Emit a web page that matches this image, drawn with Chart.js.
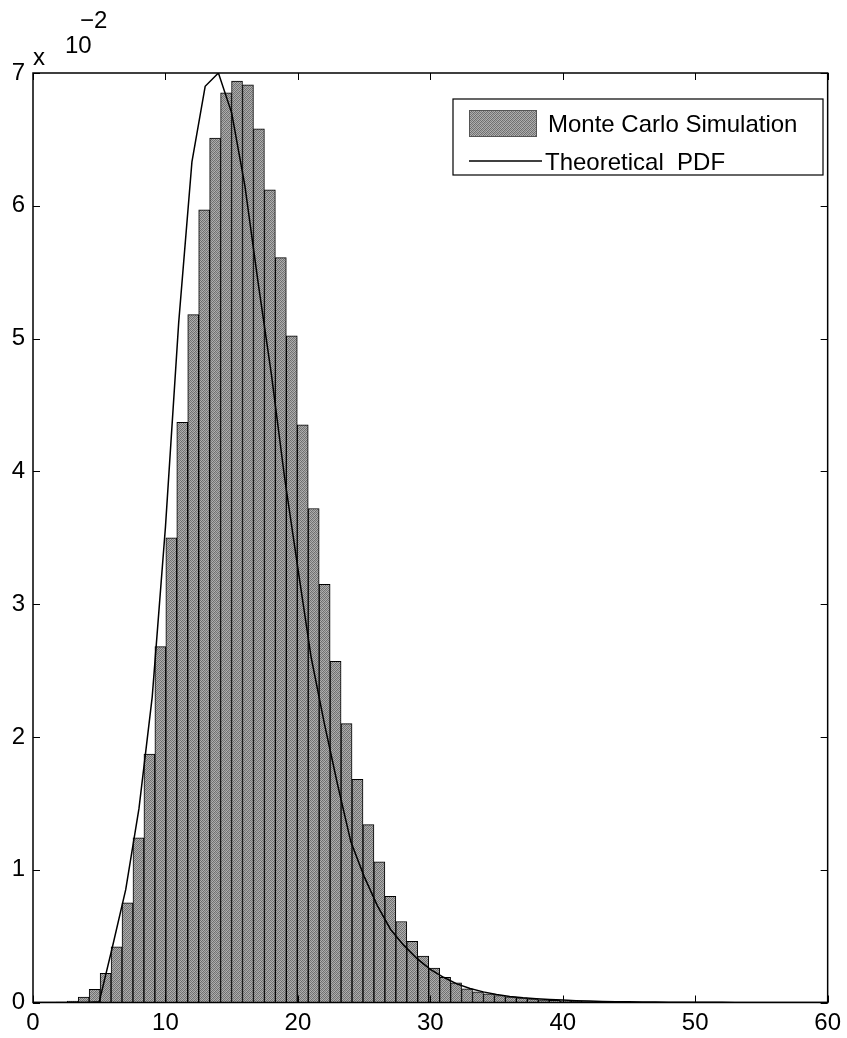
<!DOCTYPE html>
<html>
<head>
<meta charset="utf-8">
<script src="https://cdn.jsdelivr.net/npm/chart.js@4.4.0/dist/chart.umd.min.js"></script>
<style>
html,body{margin:0;padding:0;background:#fff;}
#wrap{width:847px;height:1038px;}
</style>
</head>
<body>
<div id="wrap"><canvas id="c" width="847" height="1038"></canvas></div>
<script>
// Histogram bin centres (bin width ~0.827)
const binCenters = [
  2.173, 3.000, 3.827, 4.654, 5.481, 6.308, 7.135, 7.962, 8.789, 9.616,
  10.443, 11.270, 12.097, 12.924, 13.751, 14.578, 15.405, 16.232, 17.059, 17.886,
  18.713, 19.540, 20.367, 21.194, 22.021, 22.848, 23.675, 24.502, 25.329, 26.156,
  26.983, 27.810, 28.637, 29.464, 30.291, 31.118, 31.945, 32.772, 33.599, 34.426,
  35.253, 36.080, 36.907, 37.734, 38.561, 39.388, 40.215, 41.042, 41.869, 42.696
];
// Fraction of Monte Carlo samples falling in each bin
const simulated = [
  0.00003, 0.0001, 0.0004, 0.0010, 0.0022, 0.0042, 0.0075, 0.0124, 0.0187, 0.0268,
  0.0350, 0.0437, 0.0518, 0.0597, 0.0651, 0.0685, 0.0694, 0.0691, 0.0658, 0.0612,
  0.0561, 0.0502, 0.0435, 0.0372, 0.0315, 0.0257, 0.0210, 0.0168, 0.0134, 0.0106,
  0.0080, 0.0061, 0.0046, 0.0035, 0.0026, 0.0019, 0.00148, 0.00103, 0.0008, 0.00065,
  0.00053, 0.00043, 0.00035, 0.00027, 0.00021, 0.00016, 0.00012, 0.00009, 0.00007, 0.00005
];
// Theoretical density, sampled at integer x
const pdfX = [
  0, 1, 2, 3, 4, 5, 6, 7, 8, 9, 10, 11, 12, 13, 14, 15, 16, 17, 18, 19, 20,
  21, 22, 23, 24, 25, 26, 27, 28, 29, 30, 31, 32, 33, 34, 35, 36, 37, 38, 39, 40,
  41, 42, 43, 44, 45, 46, 47, 48, 49, 50, 51, 52, 53, 54, 55, 56, 57, 58, 59, 60
];
const pdfY = [
  0, 0, 0, 0, 0, 0.00005, 0.0042, 0.0085, 0.0146, 0.0230, 0.0358,
  0.0512, 0.0633, 0.0690, 0.0700, 0.0670, 0.0615, 0.0542, 0.0473, 0.0395, 0.0327,
  0.0260, 0.0210, 0.0164, 0.0121, 0.0095, 0.0073, 0.0055, 0.0043, 0.0033, 0.0025,
  0.0019, 0.0014, 0.00105, 0.0008, 0.0006, 0.00046, 0.00035, 0.00028, 0.00022, 0.00018,
  0.00014, 0.00011, 0.00008, 0.00006, 0.00005, 0.00004, 0.00003, 0.00002, 0.00002, 0.00001,
  0.00001, 0.00001, 0, 0, 0, 0, 0, 0, 0, 0
];
const xTicks = [0, 10, 20, 30, 40, 50, 60];
const yTicks = [0, 0.01, 0.02, 0.03, 0.04, 0.05, 0.06, 0.07];
const legendLabels = ['Monte Carlo Simulation', 'Theoretical  PDF'];
const expBase = 'x', expTen = '10', expPower = '\u22122';

const FONT = "'Liberation Sans', Arial, Helvetica, sans-serif";
const FSIZE = 24;

// halftone-like grey fill for the bars
function makeHalftone() {
  const t = document.createElement('canvas');
  t.width = 4; t.height = 4;
  const g = t.getContext('2d');
  const shades = [
    [116, 174, 110, 166],
    [178, 106, 168, 124],
    [112, 164, 120, 176],
    [168, 130, 180, 108]
  ];
  for (let r = 0; r < 4; r++) for (let c = 0; c < 4; c++) {
    const v = shades[r][c];
    g.fillStyle = `rgb(${v},${v},${v})`;
    g.fillRect(c, r, 1, 1);
  }
  return document.getElementById('c').getContext('2d').createPattern(t, 'repeat');
}
const barFill = makeHalftone();

const framePlugin = {
  id: 'frame',
  afterDatasetsDraw(chart) {
    const { ctx, chartArea: a, scales } = chart;
    ctx.save();
    ctx.strokeStyle = '#000';
    ctx.lineWidth = 1;
    const tl = 7;
    ctx.beginPath();
    xTicks.forEach(v => {
      const px = Math.round(scales.x.getPixelForValue(v)) + 0.5;
      ctx.moveTo(px, a.bottom); ctx.lineTo(px, a.bottom - tl);
      ctx.moveTo(px, a.top); ctx.lineTo(px, a.top + tl);
    });
    yTicks.forEach(v => {
      const py = Math.round(scales.y.getPixelForValue(v)) + 0.5;
      ctx.moveTo(a.left, py); ctx.lineTo(a.left + tl, py);
      ctx.moveTo(a.right, py); ctx.lineTo(a.right - tl, py);
    });
    ctx.stroke();
    ctx.lineWidth = 1.5;
    ctx.strokeRect(a.left, a.top, a.right - a.left, a.bottom - a.top);

    // legend box
    const bx = 453, by = 99, bw = 370, bh = 76;
    ctx.fillStyle = '#fff';
    ctx.fillRect(bx, by, bw, bh);
    ctx.lineWidth = 1.2;
    ctx.strokeRect(bx, by, bw, bh);
    const ds0 = chart.data.datasets[0];
    ctx.fillStyle = ds0.backgroundColor;
    ctx.fillRect(469, 110, 68, 27);
    ctx.strokeStyle = '#555';
    ctx.lineWidth = 1;
    ctx.strokeRect(469.5, 110.5, 67, 26);
    ctx.strokeStyle = '#000';
    ctx.lineWidth = 1.5;
    ctx.beginPath();
    ctx.moveTo(469, 161); ctx.lineTo(542, 161);
    ctx.stroke();
    ctx.fillStyle = '#000';
    ctx.font = `${FSIZE}px ${FONT}`;
    ctx.textBaseline = 'alphabetic';
    ctx.textAlign = 'left';
    ctx.fillText(legendLabels[0], 548, 132);
    ctx.fillText(legendLabels[1], 545, 170);

    // axis multiplier
    ctx.fillText(expBase, 33, 65);
    ctx.fillText(expTen, 65, 53);
    ctx.fillText(expPower, 80, 28);
    ctx.restore();
  }
};

new Chart(document.getElementById('c'), {
  type: 'bar',
  data: {
    datasets: [
      {
        type: 'bar',
        label: legendLabels[0],
        data: binCenters.map((x, i) => ({ x, y: simulated[i] })),
        backgroundColor: barFill,
        borderColor: '#000',
        borderWidth: 1,
        barPercentage: 1,
        categoryPercentage: 1,
        order: 2
      },
      {
        type: 'line',
        label: legendLabels[1],
        data: pdfX.map((x, i) => ({ x, y: pdfY[i] })),
        borderColor: '#000',
        borderWidth: 1.5,
        pointRadius: 0,
        tension: 0,
        fill: false,
        order: 1
      }
    ]
  },
  options: {
    responsive: false,
    animation: false,
    devicePixelRatio: 1,
    layout: { padding: { top: 73, right: 19, left: 0, bottom: 0 } },
    plugins: { legend: { display: false }, tooltip: { enabled: false } },
    scales: {
      x: {
        type: 'linear',
        min: 0, max: 60,
        offset: false,
        grid: { display: false, drawTicks: false, offset: false },
        border: { display: false },
        afterBuildTicks: s => { s.ticks = xTicks.map(v => ({ value: v })); },
        afterFit: s => { s.height = 35.5; },
        ticks: {
          color: '#000',
          padding: 6,
          maxRotation: 0,
          font: { family: FONT, size: FSIZE },
          callback: v => String(v)
        }
      },
      y: {
        min: 0, max: 0.07,
        grid: { display: false, drawTicks: false },
        border: { display: false },
        afterBuildTicks: s => { s.ticks = yTicks.map(v => ({ value: v })); },
        afterFit: s => { s.width = 33; },
        ticks: {
          color: '#000',
          padding: 8,
          font: { family: FONT, size: FSIZE },
          callback: v => String(Math.round(v * 100))
        }
      }
    }
  },
  plugins: [framePlugin]
});
</script>
</body>
</html>
